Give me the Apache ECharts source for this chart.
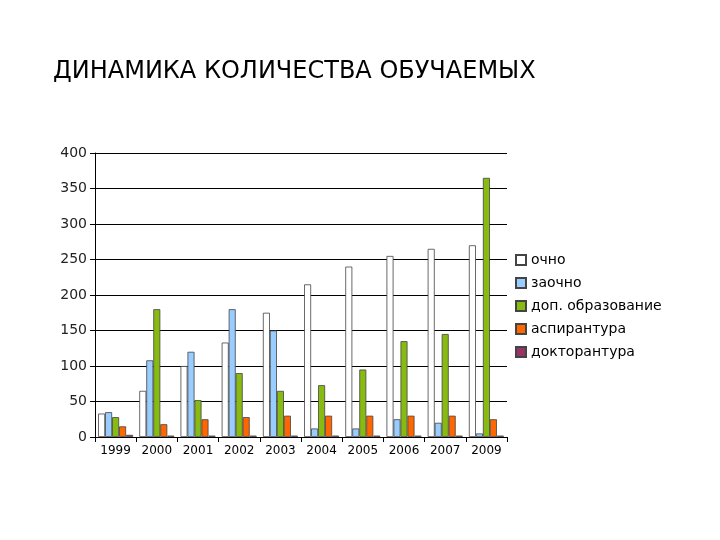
<!DOCTYPE html><html><head><meta charset="utf-8"><script src="https://cdn.jsdelivr.net/npm/echarts@6/dist/echarts.min.js"></script></head><body style="margin:0;background:#fff"><div id="c" style="width:720px;height:540px"></div><script>
const categories=['1999','2000','2001','2002','2003','2004','2005','2006','2007','2009'];
const ochno=[33,65,100,133,175,215,240,255,265,270];
const zaochno=[35,108,120,180,150,12,12,25,20,5];
const dop=[28,180,52,90,65,73,95,135,145,365];
const asp=[15,18,25,28,30,30,30,30,30,25];
const dokt=[3,2,2,2,2,2,2,2,2,2];
const names=['очно','заочно','доп. образование','аспирантура','докторантура'];
const colors=['#ffffff','#99ccff','#88bb11','#ff6600','#993366'];
const data=[ochno,zaochno,dop,asp,dokt];
const ch=echarts.init(document.getElementById('c'));
ch.setOption({
 title:{text:'ДИНАМИКА КОЛИЧЕСТВА ОБУЧАЕМЫХ',left:48,top:55,textStyle:{fontFamily:'DejaVu Sans',fontSize:24,fontWeight:'normal',color:'#000'}},
 grid:{left:95,right:213,top:153,bottom:103},
 legend:{orient:'vertical',left:510,top:248,icon:'rect',itemWidth:10,itemHeight:10,itemGap:9,textStyle:{fontFamily:'DejaVu Sans',fontSize:14,color:'#000'},data:names},
 xAxis:{type:'category',data:categories,axisLine:{lineStyle:{color:'#000'}},axisTick:{show:true,lineStyle:{color:'#000'}},axisLabel:{color:'#000',fontFamily:'DejaVu Sans',fontSize:12}},
 yAxis:{type:'value',min:0,max:400,interval:50,axisLine:{show:true,lineStyle:{color:'#000'}},axisTick:{show:true,lineStyle:{color:'#000'}},splitLine:{lineStyle:{color:'#000'}},axisLabel:{color:'#222',fontFamily:'DejaVu Sans',fontSize:14}},
 series:names.map((n,i)=>({name:n,type:'bar',data:data[i],barWidth:7,barGap:'0%',itemStyle:{color:colors[i],borderColor:'#444',borderWidth:0.8}}))
});
</script></body></html>
